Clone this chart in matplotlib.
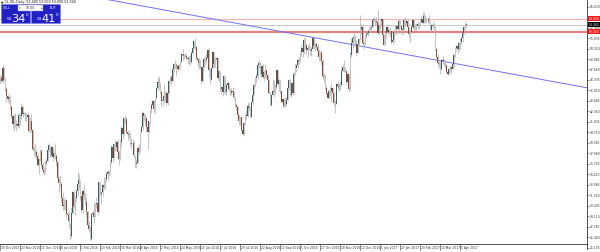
import matplotlib
matplotlib.use("Agg")
import matplotlib.pyplot as plt
import matplotlib.transforms as mtransforms
from matplotlib.patches import Rectangle
import numpy as np

# Daily CL-OIL bars, 30 Oct 2015 .. 12 Apr 2017 (one row per week)
first_open = 46.10
closes = [
    46.59,
    46.14, 47.90, 46.32, 45.20, 44.29,
    43.87, 44.21, 42.93, 41.75, 40.74,
    41.74, 40.67, 40.75, 40.54, 41.90,
    41.75, 42.87, 42.04, 42.10, 41.71,
    41.65, 41.85, 39.94, 41.08, 39.97,
    37.65, 37.51, 37.16, 36.76, 35.62,
    36.31, 37.35, 35.52, 34.95, 34.73,
    35.81, 36.14, 37.50, 38.10,
    36.81, 37.87, 36.60, 37.04,
    36.76, 35.97, 33.97, 33.27, 33.16,
    31.41, 30.44, 30.48, 31.20, 29.42,
    29.30, 28.46, 26.55, 29.53, 32.19,
    30.34, 31.45, 32.30, 33.22, 33.62,
    31.62, 29.88, 32.28, 31.72, 30.89,
    29.69, 27.94, 27.45, 26.21, 29.44,
    29.50, 29.04, 30.66, 30.77, 29.64,
    33.39, 31.87, 32.15, 33.07, 32.78,
    33.75, 34.40, 34.66, 34.57, 35.92,
    37.90, 36.50, 38.29, 37.84, 38.50,
    37.18, 36.34, 38.46, 40.20, 39.44,
    41.52, 41.45, 39.79, 39.46,
    39.39, 38.28, 38.32, 38.34, 36.79,
    35.70, 35.89, 37.75, 37.26, 39.72,
    40.36, 42.17, 41.76, 41.50, 40.36,
    39.78, 41.08, 42.63, 43.18, 43.73,
    42.64, 44.04, 45.33, 46.03, 45.92,
    44.78, 43.65, 43.78, 44.32, 44.66,
    43.44, 44.66, 46.23, 46.70, 46.21,
    47.72, 48.31, 48.19, 48.12, 47.75,
    48.08, 48.62, 49.56, 49.48, 49.33,
    49.40, 49.10, 49.01, 49.17, 48.62,
    49.69, 50.36, 51.23, 50.56, 49.07,
    48.88, 48.49, 48.01, 46.21, 47.98,
    48.96, 48.85, 49.13, 50.11, 47.64,
    46.33, 47.85, 49.88, 48.33, 48.99,
    49.10, 46.60, 47.43, 45.14, 45.41,
    44.76, 46.80, 44.75, 45.68, 45.95,
    45.24, 44.65, 44.94, 44.75, 44.19,
    43.13, 42.92, 41.92, 41.14, 41.60,
    40.06, 39.51, 40.83, 41.93, 41.80,
    43.02, 42.77, 41.71, 43.49, 44.49,
    45.74, 46.58, 46.79, 48.22, 48.52,
    47.05, 48.10, 46.77, 47.33, 47.64,
    46.98, 46.35, 44.70, 43.16, 44.44,
    44.90, 44.83, 45.50, 47.62, 45.88,
    46.29, 44.90, 43.58, 43.91, 43.03,
    43.30, 43.85, 45.34, 46.32, 44.48,
    45.93, 44.67, 47.05, 47.83, 48.24,
    48.81, 48.69, 49.83, 50.44, 49.81,
    51.35, 50.79, 50.18, 50.44, 50.35,
    49.94, 50.29, 51.60, 50.63, 50.85,
    50.52, 49.96, 49.18, 49.72, 48.70,
    46.86, 46.67, 45.34, 44.66, 44.07,
    44.89, 44.98, 45.27, 44.66, 43.41,
    43.32, 45.81, 45.57, 45.42, 45.69,
    47.49, 48.03, 47.96, 47.50, 46.06,
    47.08, 45.23, 49.44, 51.06, 51.68,
    51.79, 50.93, 49.77, 50.84, 51.50,
    52.83, 52.98, 51.04, 50.90, 51.90,
    52.12, 52.23, 52.49, 52.95, 53.02,
    53.90, 54.06, 53.77, 53.72,
    52.33, 53.26, 53.76, 53.99,
    51.96, 50.82, 52.25, 53.01, 52.37,
    52.60, 52.48, 51.08, 51.37, 52.42,
    52.75, 53.18, 52.75, 53.78, 53.17,
    52.63, 52.81, 53.88, 53.54, 53.83,
    53.01, 52.17, 52.34, 53.00, 53.86,
    52.93, 53.20, 53.11, 53.36, 53.40,
    53.70, 54.06, 53.59, 54.45, 53.99,
    54.05, 54.01, 53.83, 52.61, 53.33,
    53.20, 53.14, 50.28, 49.28, 48.49,
    48.40, 47.72, 48.86, 48.75, 48.78,
    48.22, 47.34, 47.04, 47.70, 47.97,
    47.73, 48.37, 49.51, 50.35, 50.60,
    50.24, 51.03, 51.15, 51.70, 52.24,
    53.08, 53.40, 53.34,
]
highs = [
    46.90,
    46.90, 48.20, 48.00, 46.60, 45.40,
    44.40, 44.60, 44.30, 43.20, 41.90,
    42.00, 42.10, 41.30, 41.20, 42.20,
    42.20, 43.40, 43.20, 42.30, 42.30,
    42.20, 42.30, 41.90, 41.50, 42.00,
    40.00, 38.00, 38.40, 37.50, 36.80,
    36.40, 37.60, 37.60, 35.90, 35.30,
    36.10, 36.40, 37.70, 38.30,
    38.10, 38.00, 37.90, 37.30,
    38.40, 37.00, 35.90, 34.10, 34.30,
    33.40, 32.20, 31.30, 31.50, 31.20,
    29.60, 29.80, 28.30, 30.30, 32.30,
    32.30, 31.70, 32.50, 34.80, 34.40,
    33.70, 31.70, 32.50, 33.00, 32.00,
    31.50, 29.80, 28.50, 27.80, 29.50,
    29.90, 30.90, 30.80, 31.50, 30.90,
    33.50, 33.40, 32.30, 33.20, 34.00,
    33.90, 34.80, 34.90, 35.00, 36.20,
    38.10, 37.95, 38.40, 38.70, 38.80,
    38.90, 37.50, 38.80, 40.50, 40.30,
    41.60, 41.90, 41.60, 39.90,
    39.90, 39.60, 39.00, 38.90, 38.60,
    36.90, 36.30, 38.00, 38.20, 39.80,
    40.60, 42.40, 42.20, 42.00, 41.60,
    40.40, 41.10, 42.70, 43.40, 43.80,
    43.80, 44.10, 45.50, 46.80, 46.70,
    46.10, 44.90, 44.40, 45.80, 45.00,
    44.90, 44.80, 46.40, 46.80, 47.00,
    48.00, 48.50, 48.90, 48.50, 48.40,
    48.40, 48.70, 49.70, 50.20, 49.60,
    49.70, 49.60, 49.40, 49.50, 49.50,
    50.00, 50.50, 51.30, 51.70, 50.60,
    49.20, 49.10, 48.80, 48.10, 48.10,
    49.30, 49.40, 49.80, 50.30, 50.40,
    47.80, 47.90, 50.00, 49.90, 49.30,
    49.30, 49.20, 47.60, 47.50, 45.60,
    45.70, 46.90, 46.85, 45.90, 46.20,
    46.00, 45.30, 45.30, 45.40, 44.90,
    44.20, 43.40, 43.00, 42.00, 41.70,
    41.65, 40.60, 41.00, 42.00, 42.50,
    43.50, 43.40, 43.10, 43.60, 44.60,
    45.90, 46.70, 47.20, 48.50, 48.80,
    48.60, 48.20, 48.40, 47.60, 48.40,
    47.70, 47.00, 46.40, 44.80, 44.50,
    46.50, 46.30, 45.80, 47.70, 47.65,
    46.40, 46.30, 45.00, 44.10, 44.00,
    44.20, 44.20, 45.60, 46.50, 46.40,
    46.00, 46.10, 47.30, 48.30, 48.30,
    49.00, 49.30, 50.00, 50.70, 50.60,
    51.60, 51.90, 50.90, 50.70, 51.00,
    50.60, 50.50, 51.90, 51.80, 51.10,
    51.20, 50.90, 50.20, 50.00, 50.10,
    48.80, 47.20, 47.00, 45.70, 45.10,
    45.10, 45.40, 46.00, 45.40, 44.80,
    43.80, 45.90, 46.30, 45.90, 46.20,
    47.80, 48.30, 48.80, 48.00, 47.60,
    47.40, 47.10, 49.90, 51.60, 51.70,
    52.40, 52.00, 51.40, 51.30, 51.70,
    54.50, 53.30, 53.40, 51.30, 52.00,
    52.40, 52.60, 53.10, 53.10, 53.10,
    54.00, 54.30, 54.20, 54.30,
    55.24, 53.40, 53.80, 54.30,
    54.00, 52.10, 52.50, 53.30, 53.10,
    52.80, 53.00, 52.50, 51.60, 52.80,
    53.30, 53.30, 53.30, 54.00, 53.90,
    53.20, 53.00, 54.10, 54.30, 54.00,
    54.00, 53.05, 52.60, 53.30, 54.10,
    53.90, 53.40, 53.60, 53.80, 53.50,
    53.90, 54.60, 54.90, 54.90, 54.50,
    54.30, 54.30, 54.50, 53.90, 53.40,
    53.80, 53.50, 53.20, 50.40, 49.60,
    48.80, 48.60, 49.00, 49.40, 49.00,
    48.80, 48.40, 47.60, 48.00, 48.20,
    48.00, 48.50, 49.60, 50.50, 50.80,
    50.90, 51.10, 51.60, 51.80, 52.90,
    53.20, 53.80, 53.50,
]
lows = [
    45.90,
    45.90, 46.00, 46.20, 45.00, 43.60,
    43.50, 43.30, 42.50, 41.50, 40.30,
    39.90, 40.40, 39.90, 40.20, 40.30,
    40.60, 41.40, 41.70, 41.90, 41.20,
    41.20, 41.20, 39.70, 39.80, 39.80,
    37.50, 36.90, 36.60, 36.30, 35.40,
    34.50, 36.10, 35.30, 34.50, 34.30,
    34.60, 35.60, 36.10, 37.20,
    36.60, 36.60, 36.10, 36.40,
    36.30, 35.40, 33.80, 32.10, 32.80,
    30.90, 29.90, 29.90, 29.90, 28.90,
    28.70, 27.60, 26.19, 26.40, 29.40,
    30.20, 29.30, 30.90, 31.60, 32.60,
    31.20, 29.50, 29.50, 31.20, 30.50,
    29.00, 27.50, 27.10, 26.05, 26.10,
    29.30, 28.20, 29.00, 30.20, 29.30,
    29.60, 31.60, 30.60, 31.60, 32.50,
    32.60, 33.40, 33.70, 34.20, 34.40,
    35.70, 36.00, 36.40, 37.30, 37.50,
    36.90, 35.60, 36.20, 37.90, 38.90,
    39.40, 40.90, 39.50, 38.80,
    39.00, 38.00, 37.70, 37.90, 36.50,
    35.30, 35.20, 35.80, 37.00, 37.20,
    39.60, 40.00, 41.10, 40.60, 39.80,
    37.60, 39.60, 40.80, 42.10, 42.90,
    42.30, 42.20, 43.90, 45.00, 45.20,
    44.50, 43.00, 43.00, 43.60, 43.60,
    43.10, 43.20, 44.60, 45.90, 45.70,
    46.10, 47.30, 47.70, 46.80, 47.50,
    47.60, 47.90, 48.60, 48.80, 49.00,
    49.20, 48.90, 48.40, 48.40, 48.20,
    48.50, 49.60, 50.20, 50.20, 48.90,
    48.00, 47.70, 47.70, 45.80, 46.10,
    47.90, 48.20, 48.50, 48.90, 46.70,
    45.80, 46.30, 47.80, 47.90, 48.00,
    48.80, 46.30, 46.10, 44.90, 44.40,
    44.30, 44.70, 44.60, 44.40, 45.10,
    44.90, 44.30, 44.40, 44.30, 43.80,
    42.90, 42.50, 41.60, 40.60, 40.60,
    39.90, 39.20, 39.40, 40.60, 41.40,
    41.70, 42.50, 41.50, 41.60, 43.30,
    44.40, 45.50, 45.90, 46.40, 47.90,
    46.80, 46.70, 46.60, 46.20, 46.60,
    46.60, 46.00, 44.50, 43.00, 43.10,
    44.40, 44.20, 44.60, 45.20, 45.70,
    45.00, 44.60, 43.40, 42.90, 42.90,
    42.90, 43.10, 43.80, 45.10, 44.30,
    44.20, 44.40, 44.60, 46.90, 47.30,
    47.80, 48.40, 48.60, 49.40, 49.20,
    49.60, 50.30, 49.60, 49.30, 50.10,
    49.50, 49.40, 50.20, 50.40, 50.00,
    50.30, 49.50, 48.70, 48.70, 48.20,
    46.50, 46.00, 45.20, 44.40, 43.90,
    44.00, 44.30, 43.60, 44.40, 43.00,
    42.20, 43.30, 45.10, 44.90, 45.10,
    45.60, 47.30, 47.40, 47.30, 45.80,
    45.90, 44.80, 45.10, 49.30, 50.40,
    51.00, 50.60, 49.40, 49.70, 50.60,
    51.40, 52.20, 50.80, 50.30, 50.70,
    51.60, 51.90, 52.20, 52.40, 52.60,
    53.00, 53.70, 53.30, 53.40,
    52.10, 52.10, 52.80, 53.10,
    51.80, 50.70, 50.70, 51.70, 52.10,
    52.20, 51.80, 50.90, 50.90, 51.20,
    52.10, 52.20, 52.10, 52.70, 53.00,
    52.10, 52.00, 52.40, 53.10, 53.30,
    52.80, 51.70, 51.20, 52.30, 52.90,
    52.70, 52.60, 52.50, 52.90, 52.80,
    53.30, 53.60, 53.50, 53.50, 53.50,
    53.70, 53.60, 53.60, 52.40, 52.50,
    52.90, 52.60, 50.10, 49.00, 48.10,
    47.90, 47.10, 47.60, 48.30, 48.10,
    47.80, 47.20, 46.90, 47.00, 47.40,
    47.10, 47.70, 48.00, 49.30, 50.00,
    49.80, 50.00, 50.30, 50.90, 51.20,
    52.20, 52.80, 53.00,
]

# time scale labels, one every 16 bars
date_labels = ["30 Oct 2015", "23 Nov 2015", "15 Dec 2015", "8 Jan 2016", "1 Feb 2016",
               "23 Feb 2016", "16 Mar 2016", "8 Apr 2016", "2 May 2016", "24 May 2016",
               "15 Jun 2016", "7 Jul 2016", "29 Jul 2016", "22 Aug 2016", "13 Sep 2016",
               "5 Oct 2016", "27 Oct 2016", "18 Nov 2016", "12 Dec 2016", "5 Jan 2017",
               "27 Jan 2017", "20 Feb 2017", "14 Mar 2017", "5 Apr 2017"]
bars_per_label = 16

price_ticks = [55.610, 54.285, 52.960, 51.635, 50.310, 48.985, 47.660, 46.335,
               45.010, 43.685, 42.360, 41.035, 39.710, 38.385, 37.060, 35.735,
               34.410, 33.085, 31.760, 30.435, 29.110, 27.785, 26.460, 25.135]

trend_bars = [80, 470]
trend_prices = [56.68, 45.33]
level_upper = 54.080
level_lower = 52.440
bid = 53.340
ask = 53.410
lot = "10.00"

assert len(closes) == len(highs) == len(lows) == 374

opens = np.array([first_open] + closes[:-1])
closes = np.array(closes)
highs = np.array(highs)
lows = np.array(lows)
idx = np.arange(len(closes))
up = closes >= opens

fig = plt.figure(figsize=(6, 2.52), dpi=100)
fig.patch.set_facecolor("white")
ax = fig.add_axes([0, 3 / 252, 587 / 600, 249 / 252])
ax.set_xlim(0, 469.6)
ax.set_ylim(24.95, 56.45)
ax.set_facecolor("white")
for s in ["top", "left", "bottom"]:
    ax.spines[s].set_visible(False)
ax.spines["right"].set_linewidth(0.6)
ax.spines["right"].set_color("#333333")
ax.set_xticks([])
ax.yaxis.tick_right()
ax.set_yticks(price_ticks)
ax.set_yticklabels([f"{p:.3f}" for p in price_ticks])
ax.tick_params(axis="y", length=1.5, width=0.4, pad=0.6, labelsize=2.2, colors="#333333")

# levels and current price
ax.axhline(level_upper, color="#f6b2b2", lw=0.8, zorder=1)
ax.axhline(level_lower, color="#f07c7c", lw=1.5, zorder=1)
ax.axhline(bid, color="#c8c8c8", lw=0.7, zorder=1)

# trend line
ax.plot(trend_bars, trend_prices, color="#7272f0", lw=0.7, zorder=2)

# candles
ax.vlines(idx, lows, highs, color="#b4b4b4", lw=0.55, zorder=3)
body_lo = np.minimum(opens, closes)
body_h = np.maximum(np.abs(closes - opens), 0.06)
ax.bar(idx[up], body_h[up], bottom=body_lo[up], width=0.75, color="#3f5d60", lw=0, zorder=4)
ax.bar(idx[~up], body_h[~up], bottom=body_lo[~up], width=0.75, color="#8c4c3c", lw=0, zorder=4)

# price boxes on the scale
ytr = mtransforms.offset_copy(ax.get_yaxis_transform(), fig=fig, x=1.5, y=0, units="dots")
for price, face in [(level_upper, "#f01818"), (bid, "#000000"), (level_lower, "#f01818")]:
    ax.text(1.0, price, f"{price:.3f}", transform=ytr, fontsize=2.2, color="white",
            va="center", ha="left", clip_on=False, zorder=6,
            bbox=dict(boxstyle="square,pad=0.2", fc=face, ec="none"))

# overlay in pixel units for the time scale and trade panel
ov = fig.add_axes([0, 0, 1, 1], facecolor="none")
ov.set_xlim(0, 600)
ov.set_ylim(252, 0)
ov.axis("off")
ov.plot([0, 587], [244, 244], color="#333333", lw=0.6)

xtr = mtransforms.blended_transform_factory(ax.transData, ov.transData)
for k, lab in enumerate(date_labels):
    b = k * bars_per_label
    ov.plot([b, b], [244, 250], color="#333333", lw=0.4, transform=xtr)
    ov.text(b + 0.8, 248.3, lab, transform=xtr, fontsize=2.2, color="#333333",
            ha="left", va="center")

# header
ov.text(1, 2.2, f"\u25b2 CL-OIL,Daily  {opens[-1]:.3f} {highs[-1]:.3f} {lows[-1]:.3f} {closes[-1]:.3f}",
        fontsize=2.3, color="#111111", ha="left", va="center")

# one click trading panel
ov.add_patch(Rectangle((1, 4), 29, 19, fc="#2020c4", ec="#7a7ae6", lw=0.4, zorder=5))
ov.add_patch(Rectangle((31, 4), 29, 19, fc="#2020c4", ec="#7a7ae6", lw=0.4, zorder=5))
ov.add_patch(Rectangle((18, 5), 25, 6, fc="white", ec="#8c8cc8", lw=0.3, zorder=6))
ov.text(30.5, 8, lot, fontsize=2.3, color="#333333", ha="center", va="center", zorder=7)
ov.text(19.5, 8, "\u25be", fontsize=2.3, color="#555555", ha="center", va="center", zorder=7)
ov.text(41.5, 8, "\u25b4", fontsize=2.3, color="#555555", ha="center", va="center", zorder=7)
ov.text(3.2, 8, "SELL", fontsize=2.3, color="white", ha="left", va="center", zorder=7)
ov.text(49.5, 8, "BUY", fontsize=2.3, color="white", ha="left", va="center", zorder=7)

for x0, price in [(6.5, bid), (37, ask)]:
    s = f"{price:.3f}"
    ov.text(x0, 20.5, s[:2], fontsize=3.0, color="white", ha="left", va="baseline", zorder=7)
    ov.text(x0 + 5.0, 21.5, s[3:5], fontsize=8.2, color="white", ha="left", va="baseline", zorder=7)
    ov.text(x0 + 18.8, 15.0, s[5], fontsize=3.0, color="white", ha="left", va="center", zorder=7)

fig.savefig("out.png", dpi=100, facecolor="white")
